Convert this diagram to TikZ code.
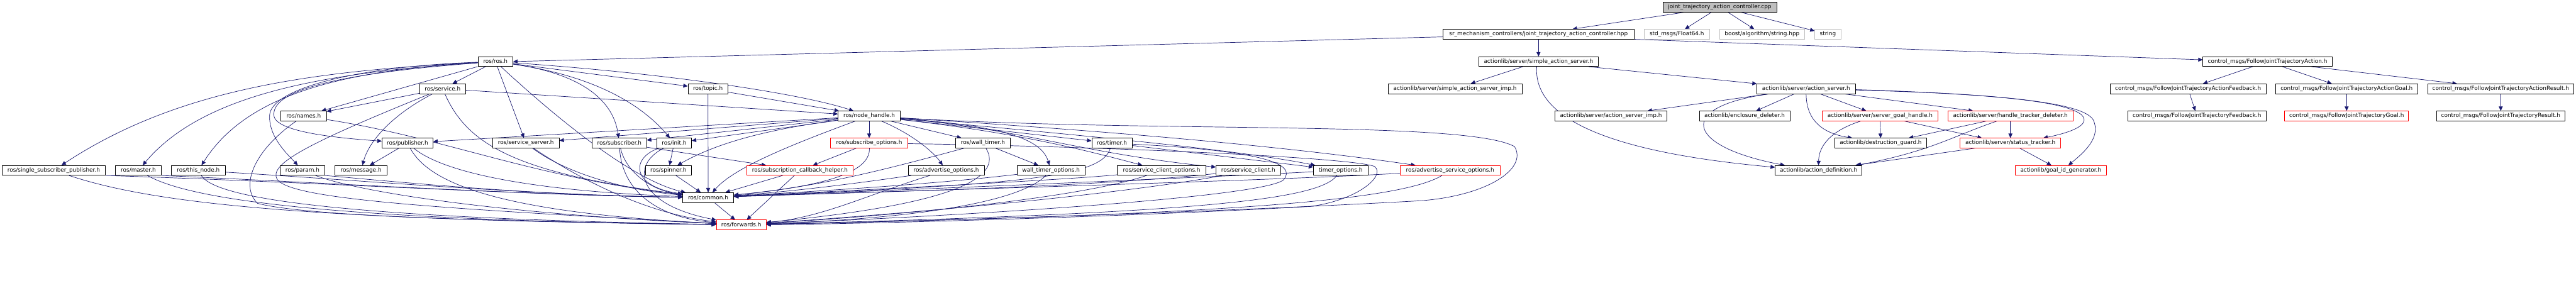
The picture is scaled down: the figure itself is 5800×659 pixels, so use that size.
\documentclass[tikz,border=0pt]{standalone}
\usepackage{fontspec}
\usetikzlibrary{arrows.meta,calc}
\newfontfamily\nodefont{DejaVu Sans}
\definecolor{edgecol}{RGB}{25,25,112}
\definecolor{extgray}{RGB}{191,191,191}
\definecolor{rootgray}{RGB}{191,191,191}
\definecolor{redb}{RGB}{255,0,0}
\pgfdeclarelayer{edges}
\pgfsetlayers{edges,main}
\tikzset{
  nb/.style={draw=black, line width=1pt, fill=white, minimum height=22pt, inner sep=0pt, anchor=center,
             font={\nodefont\fontsize{12.6pt}{14pt}\selectfont}},
  nred/.style={nb, draw=redb},
  ext/.style={nb, draw=extgray},
  rootbox/.style={nb, fill=rootgray},
  e/.style={draw=edgecol, line width=1pt, -{Triangle[length=10pt,width=9pt]}, fill=none},
}
\begin{document}
\begin{tikzpicture}[x=1pt,y=-1pt]
\begin{pgfonlayer}{edges}
\fill[white] (0,0) rectangle (5800,659);
\end{pgfonlayer}
\useasboundingbox (0,0) rectangle (5800,659);
% ---------- nodes ----------
\node[rootbox, minimum width=256] (cpp) at (3872,15.7) {joint\_trajectory\_action\_controller.cpp};
\node[nb, minimum width=430] (hpp) at (3464,77) {sr\_mechanism\_controllers/joint\_trajectory\_action\_controller.hpp};
\node[ext, minimum width=147] (float64) at (3775.5,77) {std\_msgs/Float64.h};
\node[ext, minimum width=191] (boost) at (3967.5,77) {boost/algorithm/string.hpp};
\node[ext, minimum width=59] (string) at (4115.5,77) {string};
\node[nb, minimum width=79] (rosh) at (1115.5,138.7) {ros/ros.h};
\node[nb, minimum width=270] (sas) at (3464,138.7) {actionlib/server/simple\_action\_server.h};
\node[nb, minimum width=291] (fjta) at (5105.5,138.7) {control\_msgs/FollowJointTrajectoryAction.h};
\node[nb, minimum width=103] (service) at (996.5,199.8) {ros/service.h};
\node[nb, minimum width=90] (topic) at (1594,199.8) {ros/topic.h};
\node[nb, minimum width=302] (sasimp) at (3276,199.8) {actionlib/server/simple\_action\_server\_imp.h};
\node[nb, minimum width=221] (as) at (4066.5,199.8) {actionlib/server/action\_server.h};
\node[nb, minimum width=351] (fjtaf) at (4926.5,199.8) {control\_msgs/FollowJointTrajectoryActionFeedback.h};
\node[nb, minimum width=319] (fjtag) at (5283.5,199.8) {control\_msgs/FollowJointTrajectoryActionGoal.h};
\node[nb, minimum width=329] (fjtar) at (5630.5,199.8) {control\_msgs/FollowJointTrajectoryActionResult.h};
\node[nb, minimum width=103] (names) at (683.5,261.2) {ros/names.h};
\node[nb, minimum width=140] (nh) at (1957,261.2) {ros/node\_handle.h};
\node[nb, minimum width=252] (asimp) at (3627,261.2) {actionlib/server/action\_server\_imp.h};
\node[nb, minimum width=204] (encl) at (3928,261.2) {actionlib/enclosure\_deleter.h};
\node[nred, minimum width=260] (sgh) at (4233,261.2) {actionlib/server/server\_goal\_handle.h};
\node[nred, minimum width=281] (htd) at (4526.5,261.2) {actionlib/server/handle\_tracker\_deleter.h};
\node[nb, minimum width=311] (fjtfb) at (4946.5,261.2) {control\_msgs/FollowJointTrajectoryFeedback.h};
\node[nred, minimum width=279] (fjtgoal) at (5283.5,261.2) {control\_msgs/FollowJointTrajectoryGoal.h};
\node[nb, minimum width=289] (fjtres) at (5630.5,261.2) {control\_msgs/FollowJointTrajectoryResult.h};
\node[nb, minimum width=115] (publisher) at (917.5,322.3) {ros/publisher.h};
\node[nb, minimum width=150] (sserver) at (1184,322.3) {ros/service\_server.h};
\node[nb, minimum width=123] (subscriber) at (1394.5,322.3) {ros/subscriber.h};
\node[nb, minimum width=78] (init) at (1518,322.3) {ros/init.h};
\node[nred, minimum width=174] (subopt) at (1957,322.3) {ros/subscribe\_options.h};
\node[nb, minimum width=122] (walltimer) at (2213,322.3) {ros/wall\_timer.h};
\node[nb, minimum width=91] (timer) at (2503.5,322.3) {ros/timer.h};
\node[nb, minimum width=207] (dguard) at (4234.5,322.3) {actionlib/destruction\_guard.h};
\node[nred, minimum width=227] (stracker) at (4526.5,322.3) {actionlib/server/status\_tracker.h};
\node[nb, minimum width=232] (ssp) at (121,383.7) {ros/single\_subscriber\_publisher.h};
\node[nb, minimum width=103] (master) at (311.5,383.7) {ros/master.h};
\node[nb, minimum width=121] (thisnode) at (446.5,383.7) {ros/this\_node.h};
\node[nb, minimum width=100] (param) at (681,383.7) {ros/param.h};
\node[nb, minimum width=118] (message) at (813,383.7) {ros/message.h};
\node[nb, minimum width=104] (spinner) at (1505,383.7) {ros/spinner.h};
\node[nred, minimum width=240] (sch) at (1801,383.7) {ros/subscription\_callback\_helper.h};
\node[nb, minimum width=171] (advopt) at (2130.5,383.7) {ros/advertise\_options.h};
\node[nb, minimum width=153] (wtopt) at (2366.5,383.7) {wall\_timer\_options.h};
\node[nb, minimum width=199] (scopt) at (2615.5,383.7) {ros/service\_client\_options.h};
\node[nb, minimum width=145] (sclient) at (2810.5,383.7) {ros/service\_client.h};
\node[nb, minimum width=123] (topt) at (3018.5,383.7) {timer\_options.h};
\node[nred, minimum width=224] (asopt) at (3265,383.7) {ros/advertise\_service\_options.h};
\node[nb, minimum width=195] (adef) at (4094.5,383.7) {actionlib/action\_definition.h};
\node[nred, minimum width=206] (gidgen) at (4640,383.7) {actionlib/goal\_id\_generator.h};
\node[nb, minimum width=115] (common) at (1594.5,444.8) {ros/common.h};
\node[nred, minimum width=112] (forwards) at (1669,506.3) {ros/forwards.h};
\begin{pgfonlayer}{edges}
% ---------- edges: top ----------
\draw[e] (cpp) -- (hpp);
\draw[e] (cpp) -- (float64);
\draw[e] (cpp) -- (boost);
\draw[e] (cpp) -- (string);
\draw[e] (hpp) -- (sas);
\draw[e] ($(hpp.west)+(0,6)$) -- (rosh.east);
\draw[e] (hpp.south east) -- ($(fjta.west)+(0,-4)$);
% simple action server
\draw[e] (sas) -- (sasimp);
\draw[e] (sas) -- (as);
\draw[e] ($(sas.south)+(-4,0)$) .. controls (3450,290) and (3700,350) .. ($(adef.west)+(0,-7)$);
% action server
\draw[e] (as) -- (asimp);
\draw[e] ($(as.south west)+(30,0)$) .. controls (3770,240) and (3795,330) .. ($(adef.north west)+(22,0)$);
\draw[e] (as) -- (encl);
\draw[e] (as) -- (sgh);
\draw[e] (as.south) .. controls (4067,280) and (4115,302) .. ($(dguard.north west)+(40,0)$);
\draw[e] ($(as.south east)+(-27,0)$) -- ($(htd.north west)+(57,0)$);
\draw[e] ($(as.east)+(0,3)$) .. controls (4450,210) and (4645,225) .. (4686,258) .. controls (4715,285) and (4640,303) .. ($(stracker.north)+(74,0)$);
\draw[e] ($(as.east)+(0,2)$) .. controls (4500,212) and (4690,230) .. (4713,270) .. controls (4732,310) and (4690,345) .. ($(gidgen.north)+(17,0)$);
% goal handle etc.
\draw[e] ($(sgh.south west)+(87,0)$) .. controls (4120,295) and (4095,330) .. (adef.north);
\draw[e] (sgh) -- (dguard);
\draw[e] ($(sgh.south east)+(-76,0)$) -- ($(stracker.north west)+(50,0)$);
\draw[e] (htd) -- (stracker);
\draw[e] ($(htd.south west)+(87,0)$) -- ($(dguard.north east)+(-41,0)$);
\draw[e] ($(htd.south west)+(111,0)$) .. controls (4400,305) and (4350,340) .. ($(adef.north east)+(-12,0)$);
\draw[e] (stracker) -- (gidgen);
\draw[e] ($(stracker.south west)+(34,0)$) -- ($(adef.north east)+(-15,0)$);
% control msgs
\draw[e] (fjta) -- (fjtaf);
\draw[e] (fjta) -- (fjtag);
\draw[e] (fjta) -- (fjtar);
\draw[e] (fjtaf) -- (fjtfb);
\draw[e] (fjtag) -- (fjtgoal);
\draw[e] (fjtar) -- (fjtres);
% ---------- ros/ros.h ----------
\draw[e] (rosh) -- (service);
\draw[e] (rosh) -- (sserver);
\draw[e] (rosh) .. controls (1290,300) and (1440,410) .. (common);
\draw[e] (rosh) .. controls (1300,165) and (1380,220) .. (subscriber);
\draw[e] (rosh) .. controls (1330,170) and (1440,230) .. (init);
\draw[e] (rosh) -- (topic);
\draw[e] (rosh) .. controls (1500,165) and (1800,210) .. (nh);
\draw[e] (rosh) .. controls (700,160) and (400,200) .. (ssp);
\draw[e] (rosh) .. controls (700,165) and (450,220) .. (master);
\draw[e] (rosh) .. controls (750,160) and (550,220) .. (thisnode);
\draw[e] (rosh) .. controls (800,150) and (610,200) .. (607,260) .. controls (605,310) and (650,350) .. (param);
\draw[e] (rosh) .. controls (700,170) and (610,215) .. (617,262) .. controls (625,300) and (780,312) .. (publisher);
\draw[e] (rosh) -- (names);
% ros/service.h
\draw[e] (service) -- (names);
\draw[e] (service) .. controls (880,260) and (830,320) .. (message);
\draw[e] (service) -- (nh);
\draw[e] (service) .. controls (1050,320) and (1150,390) .. (common);
\draw[e] (service) .. controls (700,320) and (600,370) .. (625,405) .. controls (660,450) and (1000,470) .. (forwards);
% ros/names.h
\draw[e] (names) .. controls (1000,310) and (1200,400) .. (common);
\draw[e] (names) .. controls (570,340) and (540,420) .. (580,458) .. controls (700,490) and (1200,500) .. (forwards);
% ros/publisher.h
\draw[e] (publisher) -- (message);
\draw[e] (publisher) .. controls (1000,390) and (1200,430) .. (common);
\draw[e] (publisher) .. controls (970,420) and (1150,480) .. (forwards);
% left row
\draw[e] (ssp.south east) .. controls (700,410) and (1200,440) .. (common);
\draw[e] (ssp) .. controls (350,460) and (700,495) .. (forwards);
\draw[e] (master.south east) .. controls (700,410) and (1200,440) .. (common);
\draw[e] (master) .. controls (420,445) and (700,495) .. (forwards);
\draw[e] ($(thisnode.east)+(0,4)$) .. controls (800,405) and (1200,440) .. (common);
\draw[e] (thisnode) .. controls (480,440) and (700,490) .. (forwards);
\draw[e] (param.south east) .. controls (900,410) and (1200,440) .. (common);
\draw[e] (param) .. controls (800,430) and (1100,480) .. (forwards);
% service server, subscriber, init, spinner, topic
\draw[e] (sserver) .. controls (1260,380) and (1380,425) .. (common);
\draw[e] (sserver) .. controls (1300,400) and (1450,480) .. (forwards);
\draw[e] (subscriber) .. controls (1410,390) and (1470,430) .. (common);
\draw[e] (subscriber) .. controls (1400,430) and (1480,490) .. (forwards);
\draw[e] (subscriber) -- (sch);
\draw[e] (init) -- (spinner);
\draw[e] (init) .. controls (1420,355) and (1420,420) .. (common);
\draw[e] (init) .. controls (1420,370) and (1430,460) .. (forwards);
\draw[e] (spinner) -- (common);
\draw[e] (topic) -- (common);
\draw[e] (topic) -- (nh);
% ros/node_handle.h
\draw[e] (nh) -- (subopt);
\draw[e] (nh) -- (walltimer);
\draw[e] (nh) .. controls (2050,300) and (2100,340) .. (advopt);
\draw[e] (nh) .. controls (2270,285) and (2345,315) .. (wtopt);
\draw[e] (nh) -- (timer);
\draw[e] (nh) .. controls (2300,300) and (2450,340) .. (scopt);
\draw[e] (nh) .. controls (2300,290) and (2430,345) .. (sclient);
\draw[e] (nh) .. controls (2500,310) and (2800,340) .. (topt);
\draw[e] (nh) .. controls (2500,295) and (2900,330) .. (asopt);
\draw[e] (nh) -- (init);
\draw[e] (nh) .. controls (1700,295) and (1600,330) .. (spinner);
\draw[e] (nh) -- (subscriber);
\draw[e] (nh) -- (sserver);
\draw[e] (nh) -- (publisher);
\draw[e] (nh) .. controls (1770,330) and (1650,380) .. (common);
\draw[e] (nh) .. controls (2600,300) and (3300,270) .. (3410,330) .. controls (3440,380) and (3350,440) .. (3200,452) .. controls (2700,480) and (2000,500) .. (forwards);
% subscribe options, callback helper
\draw[e] (subopt) -- (sch);
\draw[e] (subopt) .. controls (1960,390) and (1850,420) .. (common);
\draw[e] (subopt) .. controls (2500,330) and (3050,355) .. (3095,375) .. controls (3120,395) and (3060,450) .. (2950,465) .. controls (2500,490) and (1900,505) .. (forwards);
\draw[e] (sch) -- (common);
\draw[e] (sch) -- (forwards);
% timers and options
\draw[e] (walltimer) -- (wtopt);
\draw[e] (walltimer) .. controls (2000,380) and (1850,420) .. (common);
\draw[e] (walltimer) .. controls (2260,400) and (2150,460) .. (forwards);
\draw[e] (advopt) .. controls (1950,410) and (1800,430) .. (common);
\draw[e] (advopt) .. controls (1950,440) and (1850,490) .. (forwards);
\draw[e] (wtopt) .. controls (2100,415) and (1850,430) .. (common);
\draw[e] (wtopt) .. controls (2300,450) and (2100,490) .. (forwards);
\draw[e] (timer) -- (topt);
\draw[e] (timer) .. controls (2480,400) and (2300,415) .. (common);
\draw[e] (timer) .. controls (2850,340) and (2920,370) .. (2890,405) .. controls (2850,440) and (2300,480) .. (forwards);
\draw[e] (scopt) .. controls (2400,405) and (2000,425) .. (common);
\draw[e] (scopt) .. controls (2450,440) and (2100,480) .. (forwards);
\draw[e] (sclient) .. controls (2400,425) and (2000,430) .. (common);
\draw[e] (sclient) .. controls (2600,425) and (2200,470) .. (forwards);
\draw[e] (topt) .. controls (2700,400) and (2100,425) .. (common);
\draw[e] (topt) .. controls (2970,450) and (2700,480) .. (forwards);
\draw[e] (asopt) .. controls (2900,405) and (2200,425) .. (common);
\draw[e] (asopt) .. controls (3150,455) and (2700,485) .. (forwards);
\draw[e] (common) -- (forwards);
\end{pgfonlayer}
\end{tikzpicture}
\end{document}
